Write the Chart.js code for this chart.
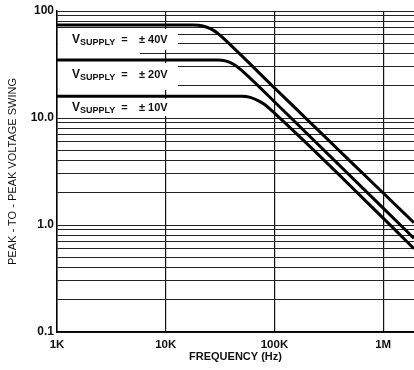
<!DOCTYPE html>
<html>
<head>
<meta charset="utf-8">
<script src="https://cdn.jsdelivr.net/npm/chart.js@4.4.1/dist/chart.umd.min.js"></script>
<style>
  html, body { margin: 0; padding: 0; background: #fff; }
  #wrap { width: 414px; height: 370px; }
</style>
</head>
<body>
<div id="wrap"><canvas id="swingChart" width="414" height="370"></canvas></div>
<script>
// values (Hz / volts peak-to-peak)
const freq40 = [1000, 18000, 22000, 26000, 30000, 40000, 100000, 1000000, 1920000];
const swing40 = [74, 74, 72.5, 68, 62, 47.5, 19.1, 1.99, 1.05];

const freq20 = [1000, 30000, 36000, 42000, 48000, 60000, 100000, 1000000, 1920000];
const swing20 = [34.8, 34.8, 34, 31.8, 28.8, 23.5, 14.2, 1.44, 0.75];

const freq10 = [1000, 50000, 60000, 70000, 80000, 100000, 1000000, 1920000];
const swing10 = [16, 16, 15.6, 14.6, 13.5, 11.1, 1.16, 0.6];

const supplyLabels = ['± 40V', '± 20V', '± 10V'];

const xTickValues = [1000, 10000, 100000, 1000000];
const xTickLabels = ['1K', '10K', '100K', '1M'];
const yTickValues = [0.1, 1, 10, 100];
const yTickLabels = ['0.1', '1.0', '10.0', '100'];
const yMinorSteps = [1, 2, 3, 4, 5, 6, 7, 8, 9];

const fontFamily = '"Liberation Sans", Arial, Helvetica, sans-serif';

function toPoints(xs, ys) {
    return xs.map((x, i) => ({ x: x, y: ys[i] }));
}

// horizontal grid lines at every 1..9 step of each decade
function yGridValues() {
    const vals = [];
    for (let e = -1; e <= 1; e++) {
        yMinorSteps.forEach(m => vals.push(Number((m * Math.pow(10, e)).toPrecision(6))));
    }
    vals.push(100);
    return vals;
}

// white boxes with the supply labels, drawn under the curves
const supplyLabelPlugin = {
    id: 'supplyLabels',
    beforeDatasetsDraw(chart) {
        const ctx = chart.ctx;
        const boxes = [
            [58, 29, 120, 21], [58, 50, 82, 7],
            [58, 63, 120, 27],
            [58, 99, 120, 17]
        ];
        const rows = [40, 75, 108];
        ctx.save();
        ctx.fillStyle = '#fff';
        boxes.forEach(b => ctx.fillRect(b[0], b[1], b[2], b[3]));
        ctx.fillStyle = '#111';
        ctx.textBaseline = 'middle';
        rows.forEach((y, i) => {
            let x = 72;
            ctx.font = 'bold 12px ' + fontFamily;
            ctx.fillText('V', x, y);
            x += ctx.measureText('V').width;
            ctx.font = 'bold 9px ' + fontFamily;
            ctx.fillText('SUPPLY', x, y + 3);
            x += ctx.measureText('SUPPLY').width;
            ctx.font = 'bold 11px ' + fontFamily;
            ctx.fillText('  =', x, y);
            ctx.fillText(supplyLabels[i], 139, y);
        });
        ctx.restore();
    }
};

const curveStyle = {
    borderColor: '#000',
    borderWidth: 3,
    pointRadius: 0,
    fill: false,
    cubicInterpolationMode: 'monotone'
};

new Chart(document.getElementById('swingChart').getContext('2d'), {
    type: 'line',
    data: {
        datasets: [
            Object.assign({ label: 'VSUPPLY = ± 40V', data: toPoints(freq40, swing40) }, curveStyle),
            Object.assign({ label: 'VSUPPLY = ± 20V', data: toPoints(freq20, swing20) }, curveStyle),
            Object.assign({ label: 'VSUPPLY = ± 10V', data: toPoints(freq10, swing10) }, curveStyle)
        ]
    },
    options: {
        responsive: false,
        devicePixelRatio: 1,
        animation: false,
        layout: { padding: { top: 11, right: 0, left: 0, bottom: 0 } },
        plugins: {
            legend: { display: false },
            tooltip: { enabled: false }
        },
        scales: {
            x: {
                type: 'logarithmic',
                min: 1000,
                max: 1920000,
                afterBuildTicks: function (scale) {
                    scale.ticks = xTickValues.map(v => ({ value: v }));
                },
                afterFit: function (scale) {
                    scale.height = 38;
                },
                grid: {
                    color: '#111',
                    lineWidth: 1.2,
                    drawTicks: false
                },
                border: { color: '#000', width: 1.5 },
                ticks: {
                    autoSkip: false,
                    maxRotation: 0,
                    padding: 6,
                    color: '#111',
                    font: { family: fontFamily, size: 11.5, weight: 'bold' },
                    callback: function (value) {
                        const i = xTickValues.indexOf(value);
                        return i >= 0 ? xTickLabels[i] : '';
                    }
                },
                title: {
                    display: true,
                    text: 'FREQUENCY (Hz)',
                    color: '#111',
                    font: { family: fontFamily, size: 11, weight: 'bold' },
                    padding: { top: 0, bottom: 6 }
                }
            },
            y: {
                type: 'logarithmic',
                min: 0.1,
                max: 100,
                afterBuildTicks: function (scale) {
                    scale.ticks = yGridValues().map(v => ({ value: v }));
                },
                afterFit: function (scale) {
                    scale.width = 57;
                },
                grid: {
                    color: '#222',
                    lineWidth: 1,
                    drawTicks: false
                },
                border: { color: '#000', width: 1.5 },
                ticks: {
                    autoSkip: false,
                    padding: 3,
                    color: '#111',
                    font: { family: fontFamily, size: 12, weight: 'bold' },
                    callback: function (value) {
                        const i = yTickValues.indexOf(value);
                        return i >= 0 ? yTickLabels[i] : '';
                    }
                },
                title: {
                    display: true,
                    text: 'PEAK - TO - PEAK VOLTAGE SWING',
                    color: '#111',
                    font: { family: fontFamily, size: 11 },
                    padding: { top: 6, bottom: 0 }
                }
            }
        }
    },
    plugins: [supplyLabelPlugin]
});
</script>
</body>
</html>
